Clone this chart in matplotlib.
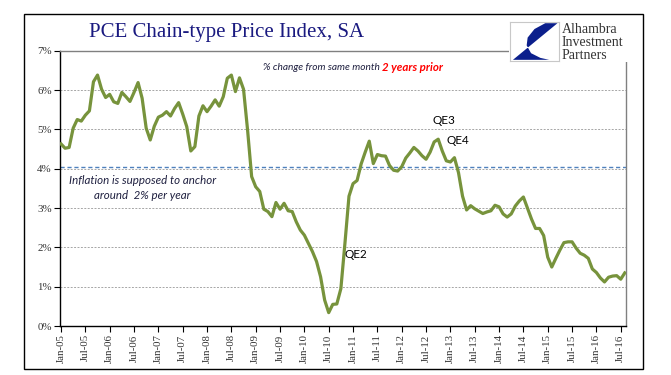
import numpy as np
import matplotlib
matplotlib.use("Agg")
import matplotlib.pyplot as plt
from matplotlib.patches import Rectangle, Polygon

# PCE price index, % change from same month 2 years prior (Jan-05 .. Aug-16, monthly)
pce_2yr = [
    4.63, 4.52, 4.54, 5.03, 5.25, 5.21, 5.36, 5.47, 6.21, 6.38, 6.02, 5.81,  # 2005
    5.89, 5.70, 5.66, 5.94, 5.83, 5.71, 5.94, 6.19, 5.79, 5.03, 4.73, 5.08,  # 2006
    5.31, 5.36, 5.45, 5.34, 5.53, 5.68, 5.39, 5.07, 4.45, 4.56, 5.34, 5.60,  # 2007
    5.45, 5.59, 5.75, 5.59, 5.83, 6.30, 6.38, 5.96, 6.31, 6.02, 4.98, 3.80,  # 2008
    3.54, 3.42, 2.97, 2.91, 2.78, 3.14, 2.97, 3.12, 2.93, 2.91, 2.65, 2.44,  # 2009
    2.31, 2.10, 1.89, 1.64, 1.25, 0.66, 0.34, 0.55, 0.56, 0.95, 2.10, 3.30,  # 2010
    3.62, 3.70, 4.12, 4.42, 4.70, 4.13, 4.36, 4.33, 4.32, 4.08, 3.96, 3.94,  # 2011
    4.05, 4.27, 4.40, 4.54, 4.45, 4.33, 4.24, 4.42, 4.68, 4.75, 4.45, 4.20,  # 2012
    4.17, 4.28, 3.90, 3.30, 2.95, 3.06, 2.98, 2.92, 2.86, 2.90, 2.93, 3.07,  # 2013
    3.03, 2.85, 2.77, 2.85, 3.05, 3.18, 3.28, 3.00, 2.72, 2.48, 2.48, 2.30,  # 2014
    1.75, 1.50, 1.72, 1.93, 2.12, 2.14, 2.14, 1.98, 1.85, 1.80, 1.72, 1.45,  # 2015
    1.36, 1.22, 1.12, 1.24, 1.27, 1.28, 1.19, 1.35,                          # 2016
]
tick_labels = ["Jan-05", "Jul-05", "Jan-06", "Jul-06", "Jan-07", "Jul-07",
               "Jan-08", "Jul-08", "Jan-09", "Jul-09", "Jan-10", "Jul-10",
               "Jan-11", "Jul-11", "Jan-12", "Jul-12", "Jan-13", "Jul-13",
               "Jan-14", "Jul-14", "Jan-15", "Jul-15", "Jan-16", "Jul-16"]
anchor_level = 4.05
qe_labels = ["QE2", "QE3", "QE4"]
qe_pos = [(70.0, 1.83), (91.6, 5.23), (95.0, 4.72)]

W, H = 671, 375
fig = plt.figure(figsize=(W / 100, H / 100), dpi=100)
fig.patch.set_facecolor("white")


def fx(px):
    return px / W


def fy(py):
    return 1 - py / H


ax = fig.add_axes([fx(60), fy(326), fx(626) - fx(60), fy(50.7) - fy(326)])
months = np.arange(len(pce_2yr))
ax.plot(months, pce_2yr, color="#77933C", lw=2.3, solid_joinstyle="round", zorder=3)
ax.axhline(anchor_level, color="#4f81bd", lw=1.0, ls=(0, (3, 2)), zorder=2)

ax.set_xlim(-0.25, 139.3)
ax.set_ylim(0, 7)
ax.set_yticks(range(8))
ax.set_yticklabels([f"{v}%" for v in range(8)], family="Liberation Serif",
                   fontsize=7.8, color="#333333")
ax.set_xticks(np.arange(0, len(tick_labels) * 6, 6))
ax.set_xticklabels(tick_labels, rotation=90, family="Liberation Serif",
                   fontsize=7.8, color="#333333")
ax.tick_params(axis="both", direction="out", length=4, width=0.8, color="black", pad=2)
ax.yaxis.grid(True, color="#a6a6a6", lw=0.7, ls=(0, (2, 1.5)))
ax.set_axisbelow(True)
for s in ["left", "bottom"]:
    ax.spines[s].set_color("black")
    ax.spines[s].set_linewidth(1.0)
for s in ["top", "right"]:
    ax.spines[s].set_color("#808080")
    ax.spines[s].set_linewidth(1.0)

ax.text(20, 3.51, "Inflation is supposed to anchor\naround  2% per year", ha="center",
        va="center", style="italic", family=["Lato", "DejaVu Sans"], fontsize=8.3,
        color="#1f2040", linespacing=1.35)
for lab, (mx, my) in zip(qe_labels, qe_pos):
    ax.text(mx, my, lab, ha="left", va="center", family=["Lato", "DejaVu Sans"],
            fontsize=8.5, color="black")

t1 = ax.text(49.8, 6.57, "% change from same month ", ha="left", va="center",
             style="italic", family=["Lato", "DejaVu Sans"], fontsize=7.3, color="#1f2040")
fig.canvas.draw()
bb = t1.get_window_extent()
x_end = ax.transData.inverted().transform((bb.x1, bb.y0))[0]
ax.text(x_end, 6.57, "2 years prior", ha="left", va="center", style="italic",
        weight="bold", family=["Lato", "DejaVu Sans"], fontsize=8.3, color="#ff0000")

# title
fig.text(fx(89), fy(33), "PCE Chain-type Price Index, SA", ha="left", va="center",
         family="Liberation Serif", fontsize=15, color="#1a1a80")

# white patch hiding the plot corner behind the logo
fig.patches.append(Rectangle((fx(509), fy(62)), fx(642) - fx(509), fy(15) - fy(62),
                             transform=fig.transFigure, facecolor="white",
                             edgecolor="none", zorder=5))

# logo
lax = fig.add_axes([fx(510), fy(61), fx(49), fy(22) - fy(61)], zorder=6)
lax.set_xlim(0, 1)
lax.set_ylim(0, 1)
lax.set_xticks([])
lax.set_yticks([])
for s in lax.spines.values():
    s.set_color("#c8c8c8")
    s.set_linewidth(0.8)
lax.add_patch(Polygon([(0.06, 0.03), (0.97, 0.97), (0.72, 0.97), (0.50, 0.82),
                       (0.36, 0.6), (0.34, 0.4), (0.43, 0.2), (0.62, 0.08),
                       (0.80, 0.03)], closed=True, facecolor="#0b1f8c", edgecolor="none"))
fig.text(fx(562), fy(23), "Alhambra\nInvestment\nPartners", ha="left", va="top",
         family="Liberation Serif", fontsize=10, color="#333333", linespacing=0.98,
         zorder=7)

# outer frame
fig.patches.append(Rectangle((fx(24), fy(369)), fx(643) - fx(24), fy(14) - fy(369),
                             transform=fig.transFigure, facecolor="none",
                             edgecolor="black", lw=1.0, zorder=8))

fig.savefig("out.png", dpi=100, facecolor="white")
